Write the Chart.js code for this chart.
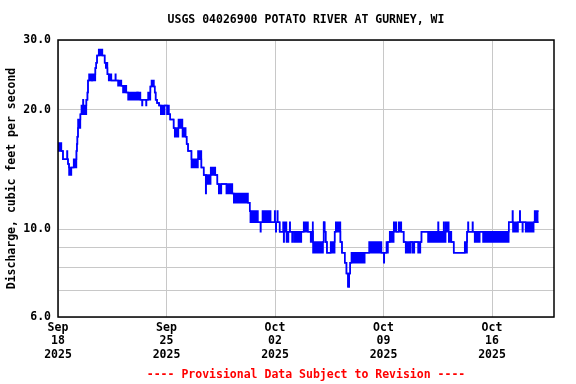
<!DOCTYPE html>
<html>
<head>
<meta charset="utf-8">
<script src="https://cdn.jsdelivr.net/npm/chart.js@4"></script>
<style>
html,body{margin:0;padding:0;background:#fff;}
#wrap{width:576px;height:384px;position:relative;}
</style>
</head>
<body>
<div id="wrap"><canvas id="c"></canvas></div>
<script>
// Time in days since 2025-09-18 00:00; flow in cubic feet per second.
// Where lowFlow != highFlow the 15-minute record flickers between the two levels.
const dayOffsets = [
 0, 0.22, 0.32, 0.58, 0.61, 0.645, 0.71, 0.865, 1.01, 1.19, 1.22, 1.25, 1.29, 1.445, 1.51, 1.61, 1.64, 1.83, 1.90, 1.935,
 2.0, 2.155, 2.22, 2.41, 2.465, 2.52, 2.625, 2.865, 3.01, 3.08, 3.19, 3.27, 3.445, 3.70, 3.73, 3.87, 4.09, 4.19, 4.41, 4.52,
 5.10, 5.16, 5.32, 5.42, 5.45, 5.68, 5.71, 5.81, 5.96, 6.03, 6.19, 6.24, 6.30, 6.39, 6.52, 6.63, 6.88, 7.03, 7.16, 7.24,
 7.46, 7.53, 7.77, 8.03, 8.24, 8.30, 8.39, 8.61, 9.03, 9.25, 9.40, 9.53, 9.56, 9.57, 9.85, 10.15, 10.28, 10.37, 10.54, 10.86,
 11.25, 11.34, 12.26, 12.37, 12.41, 12.76, 12.79, 12.90, 13.06, 13.09, 13.19, 13.72, 13.98, 14.01, 14.05, 14.08, 14.15, 14.18, 14.30, 14.52,
 14.56, 14.59, 14.74, 14.77, 14.84, 14.87, 14.95, 14.98, 15.10, 15.13, 15.23, 15.70, 15.85, 16.13, 16.30, 16.39, 16.43, 16.45, 17.10, 17.14,
 17.20, 17.27, 17.35, 17.59, 17.85, 17.92, 18.22, 18.32, 18.50, 18.61, 18.71, 18.79, 18.85, 18.93, 19.79, 20.07, 20.87, 21.02, 21.05, 21.19,
 21.29, 21.40, 21.66, 21.83, 21.98, 22.15, 22.30, 22.43, 22.74, 22.86, 22.99, 23.23, 23.38, 23.45, 23.87, 24.52, 24.55, 24.88, 24.91, 25.01,
 25.21, 25.38, 25.53, 26.24, 26.39, 26.45, 26.48, 26.74, 26.77, 26.88, 27.21, 27.42, 29.08, 29.32, 29.35, 29.68, 29.79, 29.82, 29.96, 29.99,
 30.17, 30.69, 30.75, 31.01
];
const lowFlow = [
 15.75, 15.75, 15.0, 15.0, 15.0, 14.6, 13.7, 14.3, 14.3, 15.75, 16.4, 17.1, 18.0, 19.5, 19.5, 19.5, 19.5, 21.2, 22.1, 23.7,
 23.7, 23.7, 23.7, 25.5, 26.3, 27.4, 27.4, 27.4, 26.3, 25.5, 24.6, 23.7, 23.7, 23.7, 23.7, 23.0, 23.0, 22.1, 22.1, 21.2,
 22.1, 21.2, 21.2, 20.5, 21.2, 20.5, 21.2, 21.2, 22.9, 22.9, 22.9, 22.1, 21.2, 20.8, 20.5, 19.5, 20.5, 19.5, 19.5, 18.9,
 18.0, 17.1, 18.0, 17.1, 17.1, 16.4, 15.75, 14.3, 15.0, 14.3, 13.7, 12.3, 13.7, 13.0, 13.7, 13.7, 13.0, 12.3, 13.0, 12.3,
 12.3, 11.65, 11.65, 11.1, 10.4, 10.4, 10.4, 10.4, 9.84, 10.4, 10.4, 10.4, 10.4, 10.4, 9.84, 10.4, 10.4, 10.4, 9.84, 9.84,
 9.28, 9.84, 9.28, 9.84, 9.28, 9.84, 9.84, 9.84, 9.28, 9.84, 9.28, 9.84, 9.84, 9.84, 9.28, 9.84, 9.84, 8.71, 9.28, 10.4,
 9.84, 9.28, 8.71, 8.71, 9.84, 9.84, 9.28, 8.71, 8.22, 7.72, 7.15, 7.72, 8.22, 8.22, 8.71, 8.71, 8.71, 8.22, 8.71, 8.71,
 9.28, 9.28, 9.84, 9.84, 9.84, 9.84, 9.28, 8.71, 9.28, 8.71, 9.28, 8.71, 9.28, 9.84, 9.28, 9.28, 9.28, 9.28, 9.28, 9.84,
 9.28, 9.28, 8.71, 8.71, 9.84, 9.84, 9.84, 9.84, 9.84, 9.28, 9.84, 9.28, 10.4, 10.4, 9.84, 10.4, 10.4, 10.4, 9.84, 10.4,
 9.84, 10.4, 10.4, 10.4
];
const highFlow = [
 16.5, 15.75, 15.0, 15.75, 15.0, 14.6, 14.3, 14.3, 15.0, 15.75, 16.4, 17.1, 18.9, 19.5, 20.5, 21.2, 20.5, 21.2, 22.1, 23.7,
 24.6, 23.7, 24.6, 25.5, 26.3, 27.4, 28.4, 27.4, 26.3, 26.3, 24.6, 24.6, 23.7, 24.6, 23.7, 23.7, 23.0, 23.0, 22.1, 22.1,
 22.1, 22.1, 21.2, 21.2, 21.2, 21.2, 21.2, 22.1, 22.9, 23.7, 22.9, 22.1, 21.2, 20.8, 20.5, 20.5, 20.5, 20.5, 19.5, 18.9,
 18.0, 18.0, 18.9, 18.0, 17.1, 16.4, 15.75, 15.0, 15.75, 14.3, 13.7, 13.7, 13.7, 13.7, 14.3, 13.7, 13.0, 13.0, 13.0, 13.0,
 12.3, 12.3, 11.65, 11.1, 11.1, 10.4, 11.1, 10.4, 10.4, 10.4, 11.1, 10.4, 11.1, 10.4, 10.4, 10.4, 11.1, 10.4, 9.84, 10.4,
 10.4, 10.4, 9.84, 9.84, 9.84, 9.84, 10.4, 9.84, 9.84, 9.84, 9.84, 9.84, 10.4, 9.84, 9.84, 9.84, 10.4, 9.28, 9.28, 10.4,
 9.84, 9.28, 8.71, 9.28, 9.84, 10.4, 9.28, 8.71, 8.22, 7.72, 7.15, 7.72, 8.22, 8.71, 8.71, 9.28, 8.71, 8.71, 8.71, 9.28,
 9.28, 9.84, 10.4, 9.84, 10.4, 9.84, 9.28, 9.28, 9.28, 9.28, 9.28, 9.28, 9.28, 9.84, 9.84, 10.4, 9.84, 10.4, 9.84, 10.4,
 9.84, 9.28, 8.71, 9.28, 9.84, 10.4, 9.84, 10.4, 9.84, 9.84, 9.84, 9.84, 10.4, 11.1, 10.4, 10.4, 11.1, 10.4, 10.4, 10.4,
 10.4, 10.4, 11.1, 11.1
];
const xTickValues = [0, 7, 14, 21, 28];
const xTickLabels = [
 ['Sep', '18', '2025'], ['Sep', '25', '2025'], ['Oct', '02', '2025'], ['Oct', '09', '2025'], ['Oct', '16', '2025']
];
const yTickValues = [6, 7, 8, 9, 10, 20, 30];
const yLabelValues = [6, 10, 20, 30];
const chartTitle = 'USGS 04026900 POTATO RIVER AT GURNEY, WI';
const yAxisTitle = 'Discharge, cubic feet per second';
const footerText = '---- Provisional Data Subject to Revision ----';

const FONT = '"DejaVu Sans Mono", "Liberation Mono", monospace';
const BLUE = '#0000FF';

const highData = dayOffsets.map((d, i) => ({x: d, y: highFlow[i]}));
const lowData = dayOffsets.map((d, i) => ({x: d, y: lowFlow[i]}));

const framePlugin = {
  id: 'usgsFrame',
  afterDraw(chart) {
    const {ctx, chartArea: a} = chart;
    ctx.save();
    ctx.strokeStyle = '#000';
    ctx.lineWidth = 1.5;
    ctx.strokeRect(a.left, a.top, a.right - a.left, a.bottom - a.top);
    ctx.font = 'bold 11.5px ' + FONT;
    ctx.textAlign = 'center';
    ctx.textBaseline = 'middle';
    const cx = (a.left + a.right) / 2;
    ctx.fillStyle = '#000';
    ctx.fillText(chartTitle, cx, 20);
    ctx.fillStyle = '#FF0000';
    ctx.fillText(footerText, cx, 375);
    ctx.restore();
  }
};

new Chart(document.getElementById('c'), {
  type: 'line',
  data: {
    datasets: [
      {data: highData, borderColor: BLUE, backgroundColor: BLUE, borderWidth: 1.5,
       pointRadius: 0, stepped: true, fill: '+1', tension: 0},
      {data: lowData, borderColor: BLUE, backgroundColor: BLUE, borderWidth: 1.5,
       pointRadius: 0, stepped: true, fill: false, tension: 0}
    ]
  },
  options: {
    responsive: true,
    maintainAspectRatio: false,
    animation: false,
    events: [],
    layout: {padding: {top: 40, right: 22, bottom: 15, left: 0}},
    plugins: {legend: {display: false}, tooltip: {enabled: false}, title: {display: false}},
    scales: {
      x: {
        type: 'linear', min: 0, max: 32,
        afterBuildTicks(scale) { scale.ticks = xTickValues.map(v => ({value: v})); },
        afterFit(scale) { scale.height = 52; },
        grid: {color: '#c8c8c8', lineWidth: 1, drawTicks: false},
        border: {display: false},
        ticks: {
          autoSkip: false, maxRotation: 0, padding: 4, color: '#000',
          font: {family: FONT, size: 11.5, weight: 'bold', lineHeight: 1.18},
          callback(value, index) { return xTickLabels[index]; }
        }
      },
      y: {
        type: 'logarithmic', min: 6, max: 30,
        afterBuildTicks(scale) { scale.ticks = yTickValues.map(v => ({value: v})); },
        afterFit(scale) { scale.width = 58; },
        grid: {color: '#c8c8c8', lineWidth: 1, drawTicks: false},
        border: {display: false},
        ticks: {
          autoSkip: false, padding: 7, color: '#000',
          font: {family: FONT, size: 11.5, weight: 'bold'},
          callback(value) { return yLabelValues.includes(value) ? value.toFixed(1) : ''; }
        },
        title: {
          display: true, text: yAxisTitle, color: '#000', padding: {top: 5, bottom: 0},
          font: {family: FONT, size: 11.5, weight: 'bold'}
        }
      }
    }
  },
  plugins: [framePlugin]
});
</script>
</body>
</html>
